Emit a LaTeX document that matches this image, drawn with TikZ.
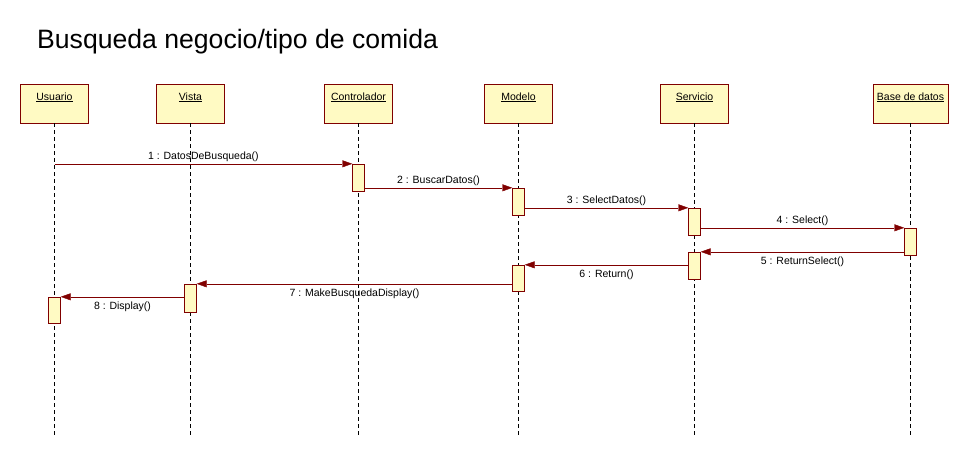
\documentclass[tikz,border=0pt]{standalone}
\usepackage{fontspec}
\setmainfont{Liberation Sans}
\usetikzlibrary{arrows.meta}

\definecolor{umlred}{RGB}{128,0,0}
\definecolor{umlfill}{RGB}{255,250,195}

\begin{document}
\begin{tikzpicture}
  [x=1pt,y=-1pt,
   obj/.style={rectangle,draw=umlred,fill=umlfill,minimum width=68pt,
     inner xsep=4pt,inner ysep=3pt,text height=13pt,text depth=20pt,
     font=\fontsize{10.5}{12}\selectfont},
   act/.style={rectangle,draw=umlred,fill=umlfill,minimum width=12pt,inner sep=0pt},
   life/.style={dash pattern=on 4pt off 3pt},
   msg/.style={draw=umlred,arrows={-{Triangle[length=10pt,width=7pt]}}},
   lbl/.style={font=\fontsize{10.5}{12}\selectfont,inner sep=2pt},
   lblb/.style={lbl,inner ysep=4.5pt}]
  \useasboundingbox (0,0) rectangle (969,453);

  \node[anchor=west,font=\fontsize{26.6}{30}\selectfont,inner sep=0pt] (title) at (37,42) {Busqueda negocio/tipo de comida};

  % objects
  \node[obj] (usr) at (54.5,103.5) {\underline{Usuario}};
  \node[obj] (vis) at (190.5,103.5) {\underline{Vista}};
  \node[obj] (ctl) at (358.5,103.5) {\underline{Controlador}};
  \node[obj] (mod) at (518.5,103.5) {\underline{Modelo}};
  \node[obj] (srv) at (694.5,103.5) {\underline{Servicio}};
  \node[obj] (bdd) at (910.5,103.5) {\underline{Base de datos}};

  % lifelines
  \foreach \o in {usr,vis,ctl,mod,srv,bdd}
    \draw[life] (\o.south) -- (\o.south |- 0,435);

  % activations
  \node[act,minimum height=27pt] (c1) at (358.5,177.5) {};
  \node[act,minimum height=27pt] (m1) at (518.5,201.5) {};
  \node[act,minimum height=27pt] (s1) at (694.5,221.5) {};
  \node[act,minimum height=27pt] (b1) at (910.5,241.5) {};
  \node[act,minimum height=27pt] (s2) at (694.5,265.5) {};
  \node[act,minimum height=26pt] (m2) at (518.5,278) {};
  \node[act,minimum height=28pt] (v1) at (190.5,298) {};
  \node[act,minimum height=26pt] (u1) at (54.5,310) {};

  % messages
  \draw[msg] (usr.south |- c1.north) -- (c1.north west)
    node[lbl,midway,above] {1 : DatosDeBusqueda()};
  \draw[msg] (c1.east |- m1.north) -- (m1.north west)
    node[lbl,midway,above] {2 : BuscarDatos()};
  \draw[msg] (m1.east |- s1.north) -- (s1.north west)
    node[lbl,midway,above] {3 : SelectDatos()};
  \draw[msg] (s1.east |- b1.north) -- (b1.north west)
    node[lbl,midway,above] {4 : Select()};
  \draw[msg] (b1.west |- s2.north) -- (s2.north east)
    node[lblb,midway,below] {5 : ReturnSelect()};
  \draw[msg] (s2.west |- m2.north) -- (m2.north east)
    node[lblb,midway,below] {6 : Return()};
  \draw[msg] (m2.west |- v1.north) -- (v1.north east)
    node[lblb,midway,below] {7 : MakeBusquedaDisplay()};
  \draw[msg] (v1.west |- u1.north) -- (u1.north east)
    node[lblb,midway,below] {8 : Display()};
\end{tikzpicture}
\end{document}
